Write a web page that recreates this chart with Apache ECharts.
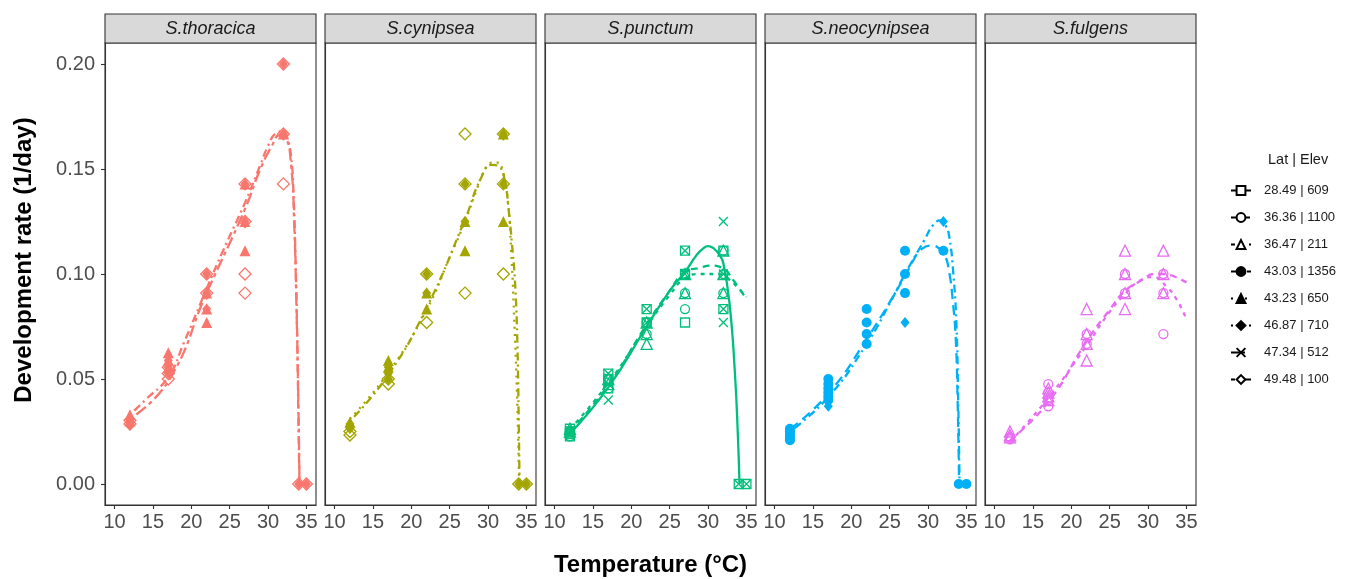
<!DOCTYPE html>
<html>
<head>
<meta charset="utf-8">
<title>Development rate</title>
<script src="https://cdn.jsdelivr.net/npm/echarts@6.0.0/dist/echarts.min.js"></script>
<style>
  html, body { margin: 0; padding: 0; background: #fff; }
  #chart { width: 1352px; height: 579px; }
</style>
</head>
<body>
<div id="chart"></div>
<script>
// facets and populations
var species = ['S.thoracica', 'S.cynipsea', 'S.punctum', 'S.neocynipsea', 'S.fulgens']
var populations = ['28.49 | 609', '36.36 | 1100', '36.47 | 211', '43.03 | 1356',
  '43.23 | 650', '46.87 | 710', '47.34 | 512', '49.48 | 100']
var xTicks = [10, 15, 20, 25, 30, 35]
var yTicks = [0, 0.05, 0.1, 0.15, 0.2]

// observed rates [temperature, 1/day]
var obs_tho_4323 = [[12, 0.033], [12, 0.030], [17, 0.0625], [17, 0.0588], [17, 0.0556], [22, 0.0909], [22, 0.0833], [22, 0.0769], [27, 0.1429], [27, 0.125], [27, 0.1111], [32, 0.1667]]
var obs_tho_4687 = [[12, 0.0303], [12, 0.0294], [12, 0.0286], [12, 0.0278], [17, 0.0588], [17, 0.0556], [17, 0.0526], [22, 0.1], [22, 0.0909], [22, 0.0833], [27, 0.1429], [27, 0.125], [32, 0.2], [32, 0.1667], [34, 0], [35, 0]]
var obs_tho_4948 = [[12, 0.0303], [12, 0.0286], [17, 0.0556], [17, 0.0526], [17, 0.05], [22, 0.1], [22, 0.0909], [27, 0.1429], [27, 0.125], [27, 0.1], [27, 0.0909], [32, 0.2], [32, 0.1667], [32, 0.1429], [34, 0], [35, 0]]

var obs_cyn_4323 = [[12, 0.0294], [17, 0.0588], [17, 0.0556], [22, 0.0909], [22, 0.0833], [27, 0.125], [27, 0.1111], [32, 0.1667], [32, 0.125]]
var obs_cyn_4687 = [[12, 0.0286], [12, 0.027], [12, 0.0263], [17, 0.0556], [17, 0.0526], [17, 0.05], [22, 0.1], [22, 0.0909], [27, 0.1429], [27, 0.125], [32, 0.1667], [32, 0.1429], [34, 0], [35, 0]]
var obs_cyn_4948 = [[12, 0.025], [12, 0.0233], [17, 0.05], [17, 0.0476], [22, 0.1], [22, 0.0769], [27, 0.1667], [27, 0.1429], [27, 0.0909], [32, 0.1667], [32, 0.1429], [32, 0.1], [34, 0], [35, 0]]

var obs_pun_2849 = [[12, 0.0263], [12, 0.025], [12, 0.0238], [12, 0.0227], [17, 0.0526], [17, 0.05], [17, 0.0455], [22, 0.0833], [22, 0.0769], [27, 0.1111], [27, 0.1], [27, 0.0769], [32, 0.1111], [32, 0.0833], [34, 0], [35, 0]]
var obs_pun_3636 = [[12, 0.025], [12, 0.0227], [17, 0.05], [17, 0.0455], [22, 0.0769], [22, 0.0714], [27, 0.1], [27, 0.0909], [27, 0.0833], [32, 0.1111], [32, 0.1], [32, 0.0909]]
var obs_pun_3647 = [[12, 0.0263], [12, 0.025], [17, 0.05], [17, 0.0476], [22, 0.0769], [22, 0.0714], [22, 0.0667], [27, 0.1], [27, 0.0909], [32, 0.1111], [32, 0.1], [32, 0.0909]]
var obs_pun_4734 = [[12, 0.025], [12, 0.0238], [17, 0.0526], [17, 0.0476], [17, 0.04], [22, 0.0833], [22, 0.0769], [27, 0.1111], [27, 0.1], [32, 0.125], [32, 0.1], [32, 0.0833], [32, 0.0769], [34, 0], [35, 0]]

var obs_neo_4303 = [[12, 0.0263], [12, 0.025], [12, 0.0238], [12, 0.0227], [12, 0.0217], [12, 0.0208], [17, 0.05], [17, 0.0476], [17, 0.0455], [17, 0.0435], [17, 0.0417], [17, 0.04], [22, 0.0833], [22, 0.0769], [22, 0.0714], [22, 0.0667], [27, 0.1111], [27, 0.1], [27, 0.0909], [32, 0.1111], [34, 0], [35, 0]]
var obs_neo_4687 = [[12, 0.025], [12, 0.0238], [17, 0.0417], [17, 0.037], [27, 0.0769], [32, 0.125]]

var obs_ful_3636 = [[12, 0.0222], [12, 0.0213], [17, 0.0476], [17, 0.0435], [17, 0.04], [17, 0.037], [22, 0.0714], [22, 0.0667], [27, 0.1], [27, 0.0909], [32, 0.1], [32, 0.0909], [32, 0.0714]]
var obs_ful_3647 = [[12, 0.025], [12, 0.0233], [12, 0.0222], [17, 0.0455], [17, 0.0435], [17, 0.0417], [17, 0.04], [22, 0.0833], [22, 0.0714], [22, 0.0667], [22, 0.0588], [27, 0.1111], [27, 0.1], [27, 0.0909], [27, 0.0833], [32, 0.1111], [32, 0.1], [32, 0.0909]]

// fitted curves
var fit_tho_4687 = [[12, 0.033], [14, 0.040], [17, 0.051], [19, 0.067], [22, 0.093], [24, 0.110], [27, 0.134], [29, 0.152], [30, 0.161], [31, 0.167], [32, 0.168], [32.5, 0.165], [33, 0.156], [33.3, 0.14], [33.6, 0.105], [33.8, 0.07], [34, 0.02], [34.1, 0]]
var fit_tho_4948 = [[12, 0.031], [17, 0.049], [22, 0.091], [27, 0.131], [29, 0.150], [30.5, 0.161], [31.5, 0.166], [32.3, 0.165], [33, 0.152], [33.4, 0.125], [33.7, 0.085], [33.95, 0.04], [34.1, 0]]
var fit_cyn_4323 = [[12, 0.031], [17, 0.053], [22, 0.083], [25, 0.108], [27, 0.125], [28.5, 0.140], [29.5, 0.149], [30.5, 0.153], [31.3, 0.153], [31.9, 0.149], [32.6, 0.134], [33, 0.112], [33.4, 0.08], [33.8, 0.04], [34.05, 0]]
var fit_cyn_4687 = [[12, 0.030], [17, 0.052], [22, 0.084], [27, 0.126], [29, 0.145], [30.5, 0.152], [31.5, 0.151], [32.2, 0.144], [32.7, 0.13], [33.1, 0.115], [33.5, 0.097], [33.8, 0.07], [34, 0.03], [34.1, 0]]
var fit_pun_2849 = [[12, 0.024], [17, 0.046], [22, 0.075], [25, 0.092], [27, 0.101], [28.5, 0.109], [29.3, 0.112], [30, 0.1133], [30.8, 0.112], [31.5, 0.109], [32, 0.105], [32.8, 0.086], [33.5, 0.053], [33.9, 0.022], [34.1, 0]]
var fit_pun_3636 = [[12, 0.025], [17, 0.047], [22, 0.076], [25, 0.092], [27, 0.101], [29, 0.103], [30.2, 0.104], [31.8, 0.103], [33.3, 0.097], [35, 0.088]]
var fit_pun_3647 = [[12, 0.026], [17, 0.048], [22, 0.075], [25, 0.090], [27, 0.098], [29, 0.100], [31, 0.100], [32.5, 0.098], [34, 0.093], [35, 0.089]]
var fit_neo_4687 = [[12, 0.025], [17, 0.0414], [22, 0.0667], [25, 0.086], [27, 0.1], [29.5, 0.116], [30.7, 0.1235], [31.6, 0.1255], [32.3, 0.123], [32.8, 0.117], [33.3, 0.1], [33.7, 0.076], [33.9, 0.045], [34.05, 0.015], [34.1, 0]]
var fit_neo_4303 = [[12, 0.026], [17, 0.043], [22, 0.069], [27, 0.099], [28, 0.106], [29.2, 0.112], [30.5, 0.1135], [31.5, 0.112], [32.2, 0.109], [32.8, 0.1], [33.2, 0.088], [33.6, 0.07], [33.85, 0.04], [34.05, 0]]
var fit_ful_3636 = [[12, 0.0208], [17, 0.039], [22, 0.068], [25, 0.083], [27, 0.092], [29.4, 0.0975], [30.7, 0.1], [32, 0.1], [33.3, 0.099], [35, 0.096]]
var fit_ful_3647 = [[12, 0.020], [17, 0.041], [22, 0.066], [25, 0.082], [27, 0.0905], [29, 0.097], [30.7, 0.0985], [32.4, 0.094], [33.7, 0.088], [35, 0.0785]]

// which array goes where: [species index, population index, data]
var pointSets = [
  [0, 4, obs_tho_4323], [0, 5, obs_tho_4687], [0, 7, obs_tho_4948],
  [1, 4, obs_cyn_4323], [1, 5, obs_cyn_4687], [1, 7, obs_cyn_4948],
  [2, 0, obs_pun_2849], [2, 1, obs_pun_3636], [2, 2, obs_pun_3647], [2, 6, obs_pun_4734],
  [3, 3, obs_neo_4303], [3, 5, obs_neo_4687],
  [4, 1, obs_ful_3636], [4, 2, obs_ful_3647]
]
var curveSets = [
  [0, 5, fit_tho_4687], [0, 7, fit_tho_4948],
  [1, 4, fit_cyn_4323], [1, 5, fit_cyn_4687],
  [2, 0, fit_pun_2849], [2, 1, fit_pun_3636], [2, 2, fit_pun_3647],
  [3, 5, fit_neo_4687], [3, 3, fit_neo_4303],
  [4, 1, fit_ful_3636], [4, 2, fit_ful_3647]
]

var colors = ['#F8766D', '#A3A500', '#00BF7D', '#00B0F6', '#E76BF3']
var font = 'Liberation Sans, Arial, Helvetica, sans-serif'

// shape per population: symbol, size, filled
var shapes = [
  ['rect', 9, false],
  ['circle', 9, false],
  ['triangle', 11, false],
  ['circle', 10, true],
  ['triangle', 11, true],
  ['diamond', [9, 11], true],
  ['path://M0,0L10,10M10,0L0,10', 9, false],
  ['diamond', 12, false]
]
var dashes = ['solid', [7, 5], [4, 5], [10, 6], [2, 5], [2, 4, 8, 4], [14, 6], [4, 4, 12, 4]]

var chart = echarts.init(document.getElementById('chart'))

var grids = [], xAxes = [], yAxes = [], series = [], graphics = []
species.forEach(function (sp, i) {
  var left = 105 + 220 * i
  grids.push({ left: left, top: 43, width: 211, height: 462, show: true, borderColor: '#333', borderWidth: 1.1, backgroundColor: '#fff' })
  xAxes.push({
    gridIndex: i, type: 'value', min: 8.75, max: 36.25,
    axisLine: { show: true, onZero: false, lineStyle: { color: '#333', width: 1.1 } },
    axisTick: { show: true, length: 4, customValues: xTicks, lineStyle: { color: '#333', width: 1.1 } },
    axisLabel: { customValues: xTicks, fontSize: 20, color: '#4D4D4D', fontFamily: font, margin: 7 },
    splitLine: { show: false }
  })
  yAxes.push({
    gridIndex: i, type: 'value', min: -0.01, max: 0.21,
    axisLine: { show: true, onZero: false, lineStyle: { color: '#333', width: 1.1 } },
    axisTick: { show: i === 0, length: 4, customValues: yTicks, lineStyle: { color: '#333', width: 1.1 } },
    axisLabel: {
      show: i === 0, customValues: yTicks, fontSize: 20, color: '#4D4D4D', fontFamily: font, margin: 10,
      formatter: function (v) { return v.toFixed(2) }
    },
    splitLine: { show: false }
  })
  // strip on top of each panel
  graphics.push({
    type: 'rect', shape: { x: left, y: 14, width: 211, height: 29 },
    style: { fill: '#D9D9D9', stroke: '#333', lineWidth: 1.1 }
  })
  graphics.push({
    type: 'text', x: left + 105.5, y: 28.5,
    style: { text: sp, fill: '#1A1A1A', font: 'italic 18px ' + font, textAlign: 'center', textVerticalAlign: 'middle' }
  })
})

pointSets.forEach(function (p) {
  var s = shapes[p[1]], col = colors[p[0]]
  series.push({
    name: species[p[0]] + ' ' + populations[p[1]],
    type: 'scatter', xAxisIndex: p[0], yAxisIndex: p[0],
    symbol: s[0], symbolSize: s[1], data: p[2], z: 2,
    itemStyle: s[2]
      ? { color: col, opacity: 1 }
      : { color: 'rgba(0,0,0,0)', borderColor: col, borderWidth: 1.3, opacity: 1 }
  })
})

curveSets.forEach(function (c) {
  series.push({
    name: species[c[0]] + ' fit ' + populations[c[1]],
    type: 'line', xAxisIndex: c[0], yAxisIndex: c[0],
    data: c[2], showSymbol: false, smooth: 0.5, z: 3,
    lineStyle: { color: colors[c[0]], width: 2.3, type: dashes[c[1]] }
  })
})

// black legend keys
populations.forEach(function (name, k) {
  var s = shapes[k]
  series.push({
    name: name, type: 'line', xAxisIndex: 0, yAxisIndex: 0, data: [],
    symbol: s[0], color: '#000',
    itemStyle: s[2] ? { color: '#000', borderColor: '#000', borderWidth: 1 } : { color: '#fff', borderColor: '#000', borderWidth: 1.2 },
    lineStyle: { color: '#000', width: 1.4, type: dashes[k] }
  })
})

graphics.push({
  type: 'text', x: 1268, y: 160,
  style: { text: 'Lat | Elev', fill: '#1A1A1A', font: '14.5px ' + font, textAlign: 'left', textVerticalAlign: 'middle' }
})
graphics.push({
  type: 'text', x: 650.5, y: 565,
  style: { text: 'Temperature (°C)', fill: '#000', font: 'bold 24px ' + font, textAlign: 'center', textVerticalAlign: 'middle' }
})
graphics.push({
  type: 'text', x: 24, y: 260, rotation: Math.PI / 2,
  style: { text: 'Development rate (1/day)', fill: '#000', font: 'bold 24px ' + font, textAlign: 'center', textVerticalAlign: 'middle' }
})

var option = {
  animation: false,
  backgroundColor: '#fff',
  grid: grids,
  xAxis: xAxes,
  yAxis: yAxes,
  legend: {
    data: populations, orient: 'vertical', left: 1225, top: 179,
    itemWidth: 20, itemHeight: 11, itemGap: 14, selectedMode: false,
    textStyle: { fontSize: 13, color: '#1A1A1A', fontFamily: font, padding: [0, 0, 0, 8] }
  },
  graphic: graphics,
  series: series
}
chart.setOption(option)
</script>
</body>
</html>
